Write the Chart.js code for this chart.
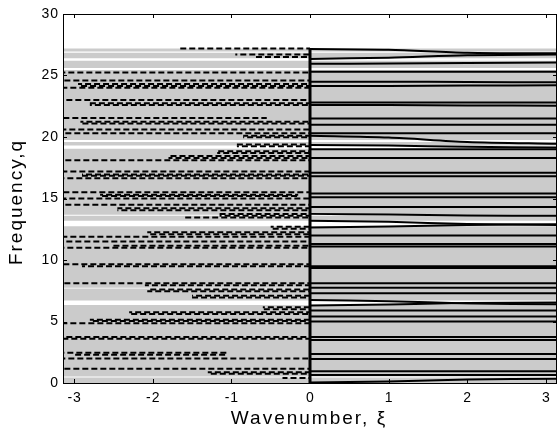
<!DOCTYPE html>
<html>
<head>
<meta charset="utf-8">
<script src="https://cdn.jsdelivr.net/npm/chart.js@4.4.1/dist/chart.umd.min.js"></script>
<style>
  html, body { margin: 0; padding: 0; background: #fff; }
  #wrap { width: 558px; height: 435px; }
</style>
</head>
<body>
<div id="wrap"><canvas id="chart"></canvas></div>
<script>
// axis ticks
const xTicks = [-3, -2, -1, 0, 1, 2, 3];
const yTicks = [0, 5, 10, 15, 20, 25, 30];

// top of the shaded (propagating) region
const bandTop = 27.2;

// white gaps in the shaded region [low q, high q]
const stopBands = [
    [26.85, 26.95], [26.2, 26.4], [25.45, 25.6], [19.6, 19.75], [19.05, 19.3],
    [13.6, 13.68], [12.75, 13.2], [7.68, 7.74], [6.35, 6.7], [0.45, 0.52]
];

const realXi = [0, 1, 2, Math.PI];

// real branches (solid), q at each realXi
const realBranches = [
    [27.15, 27.1, 26.85, 26.8], [26.35, 26.45, 26.65, 26.7], [25.95, 25.97, 26.02, 26.05],
    [25.3, 25.3, 25.3, 25.3], [24.5, 24.5, 24.47, 24.45], [24.15, 24.15, 24.18, 24.2],
    [22.8, 22.8, 22.8, 22.8], [22.6, 22.6, 22.57, 22.55], [21.5, 21.5, 21.5, 21.5],
    [21.0, 21.0, 21.0, 21.0], [20.3, 20.3, 20.3, 20.3], [20.1, 19.95, 19.6, 19.45],
    [19.35, 19.3, 19.2, 19.15], [19.0, 19.0, 19.0, 19.0], [18.3, 18.3, 18.3, 18.3],
    [17.1, 17.1, 17.1, 17.1], [16.8, 16.8, 16.8, 16.8], [15.4, 15.4, 15.4, 15.4],
    [15.1, 15.1, 15.1, 15.1], [14.3, 14.3, 14.3, 14.3], [13.75, 13.7, 13.62, 13.6],
    [13.2, 13.1, 12.92, 12.85], [12.65, 12.72, 12.85, 12.9], [12.0, 12.0, 12.0, 12.0],
    [11.3, 11.3, 11.3, 11.3], [11.1, 11.1, 11.1, 11.1], [9.5, 9.5, 9.5, 9.5],
    [9.35, 9.35, 9.35, 9.35], [8.1, 8.1, 8.1, 8.1], [7.75, 7.75, 7.75, 7.75],
    [7.3, 7.3, 7.3, 7.3], [6.75, 6.65, 6.47, 6.4], [6.3, 6.38, 6.5, 6.55],
    [5.9, 5.9, 5.9, 5.9], [5.4, 5.4, 5.4, 5.4], [5.0, 5.0, 5.0, 5.0],
    [3.75, 3.75, 3.75, 3.75], [3.5, 3.5, 3.5, 3.5], [2.35, 2.35, 2.35, 2.35],
    [1.95, 1.95, 1.95, 1.95], [0.95, 0.95, 0.95, 0.95], [0.65, 0.65, 0.65, 0.65],
    [0.05, 0.12, 0.28, 0.35]
];

// imaginary branches (dashed), [xi from, xi to, q]
const imagBranches = [
    [-1.65, 0, 27.2], [-0.95, 0, 26.7], [-0.7, 0, 26.5], [-3.15, 0, 25.25],
    [-3.15, 0, 24.6], [-2.95, 0, 24.3], [-2.95, 0, 24.15], [-3.15, 0, 24.0],
    [-3.15, 0, 23.0], [-2.8, 0, 22.75], [-2.8, 0, 22.6], [-3.15, -0.55, 21.55],
    [-2.92, 0, 21.25], [-2.92, 0, 21.1], [-3.15, 0, 20.6], [-3.15, 0, 20.3],
    [-0.85, 0, 20.1], [-0.85, 0, 19.98], [-0.93, 0, 19.4], [-0.93, 0, 19.25],
    [-1.18, 0, 18.85], [-1.18, 0, 18.7], [-1.8, 0, 18.45], [-1.8, 0, 18.3],
    [-3.15, 0, 18.1], [-3.15, 0, 17.2], [-2.9, 0, 16.95], [-2.9, 0, 16.85],
    [-3.15, 0, 16.65], [-3.15, 0, 15.5], [-2.67, -0.15, 15.3], [-2.67, -0.15, 15.2],
    [-3.15, 0, 15.0], [-3.15, 0, 14.5], [-2.45, 0, 14.2], [-2.45, 0, 14.05],
    [-1.15, 0, 13.75], [-1.15, 0, 13.6], [-1.6, 0, 13.45], [-0.5, 0, 12.7],
    [-0.5, 0, 12.55], [-2.07, 0, 12.25], [-2.07, 0, 12.1], [-3.15, 0, 11.9],
    [-3.15, 0, 11.5], [-2.5, 0, 11.15], [-3.15, 0, 11.0], [-3.15, 0, 9.65],
    [-2.9, 0, 9.5], [-3.15, 0, 8.1], [-2.1, 0, 7.95], [-2.07, 0, 7.6],
    [-2.07, 0, 7.45], [-1.5, 0, 7.1], [-1.5, 0, 6.95], [-0.6, 0, 6.15],
    [-0.6, 0, 6.0], [-2.3, 0, 5.75], [-2.3, 0, 5.6], [-2.8, 0, 5.15],
    [-2.8, 0, 5.05], [-3.15, 0, 4.85], [-3.15, 0, 3.75], [-3.15, 0, 3.6],
    [-3.15, -1.05, 2.45], [-3.0, -1.05, 2.3], [-3.15, 0, 2.0], [-3.15, 0, 1.15],
    [-1.3, 0, 0.88], [-1.3, 0, 0.75], [-0.35, 0, 0.4]
];

const PI = Math.PI;
const datasets = [];

// shaded region
datasets.push({
    data: [{ x: -PI, y: bandTop }, { x: PI, y: bandTop }],
    borderWidth: 0,
    backgroundColor: '#cbcbcb',
    fill: 'origin',
    order: 4
});

stopBands.forEach(b => {
    datasets.push({
        data: [{ x: -PI, y: b[1] }, { x: PI, y: b[1] }],
        borderWidth: 0,
        backgroundColor: '#ffffff',
        fill: { value: b[0] },
        order: 3
    });
});

imagBranches.forEach((b, i) => {
    datasets.push({
        data: [{ x: b[0], y: b[2] }, { x: b[1], y: b[2] }],
        borderColor: '#000',
        borderWidth: 2,
        borderDash: [6, 3],
        borderDashOffset: (i * 4) % 9,
        fill: false,
        order: 2
    });
});

realBranches.forEach(b => {
    datasets.push({
        data: b.map((q, k) => ({ x: realXi[k], y: q })),
        borderColor: '#000',
        borderWidth: 2,
        tension: 0.3,
        fill: false,
        order: 1
    });
});

// xi = 0 line
datasets.push({
    data: [{ x: 0, y: 0 }, { x: 0, y: bandTop }],
    borderColor: '#000',
    borderWidth: 3,
    fill: false,
    order: 0
});

const frame = {
    id: 'frame',
    afterDraw(chart) {
        const { ctx, chartArea: a, scales } = chart;
        const xs = scales.x, ys = scales.y;
        ctx.save();
        ctx.strokeStyle = '#000';
        ctx.lineWidth = 1;
        ctx.strokeRect(a.left + 0.5, a.top + 0.5, a.right - a.left - 1, a.bottom - a.top);
        ctx.beginPath();
        xTicks.forEach(t => {
            const px = Math.round(xs.getPixelForValue(t)) + 0.5;
            ctx.moveTo(px, a.bottom); ctx.lineTo(px, a.bottom - 4);
            ctx.moveTo(px, a.top); ctx.lineTo(px, a.top + 4);
        });
        yTicks.forEach(t => {
            const py = Math.round(ys.getPixelForValue(t)) + 0.5;
            ctx.moveTo(a.left, py); ctx.lineTo(a.left + 4, py);
            ctx.moveTo(a.right, py); ctx.lineTo(a.right - 4, py);
        });
        ctx.stroke();

        ctx.fillStyle = '#000';
        ctx.font = '14px "Liberation Sans", Arial, sans-serif';
        ctx.letterSpacing = '1px';
        ctx.textBaseline = 'middle';
        ctx.textAlign = 'center';
        xTicks.forEach(t => {
            ctx.fillText(String(t), xs.getPixelForValue(t) + 0.5, a.bottom + 15);
        });
        ctx.textAlign = 'right';
        yTicks.forEach(t => {
            ctx.fillText(String(t), a.left - 4, ys.getPixelForValue(t));
        });

        ctx.font = '19px "Liberation Sans", Arial, sans-serif';
        ctx.letterSpacing = '2px';
        ctx.textAlign = 'center';
        ctx.fillText('Wavenumber, \u03BE', 309, 419);
        ctx.translate(17, 202);
        ctx.rotate(-Math.PI / 2);
        ctx.fillText('Frequency,q', 0, 0);
        ctx.restore();
    }
};

new Chart(document.getElementById('chart'), {
    type: 'line',
    data: { datasets },
    options: {
        responsive: true,
        maintainAspectRatio: false,
        animation: false,
        layout: { padding: { left: 63, right: 1, top: 14, bottom: 52 } },
        elements: { point: { radius: 0 }, line: { tension: 0, borderCapStyle: 'butt' } },
        plugins: { legend: { display: false }, tooltip: { enabled: false } },
        scales: {
            x: { type: 'linear', min: -PI, max: PI, display: false },
            y: { type: 'linear', min: 0, max: 30, display: false }
        }
    },
    plugins: [frame]
});
</script>
</body>
</html>
